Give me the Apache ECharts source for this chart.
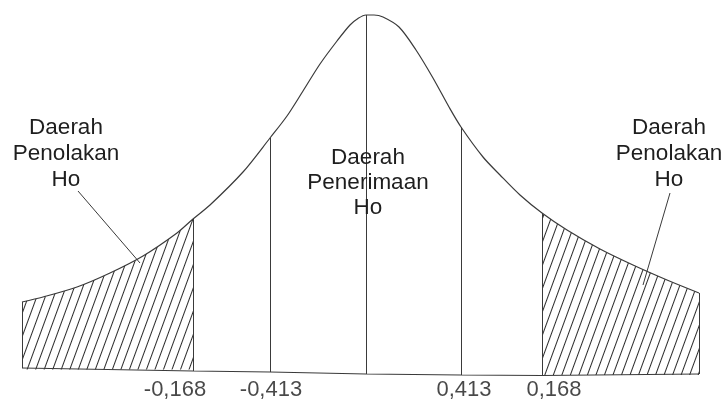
<!DOCTYPE html>
<html>
<head>
<meta charset="utf-8">
<script src="https://cdn.jsdelivr.net/npm/echarts@6/dist/echarts.min.js"></script>
<style>
  html, body { margin: 0; padding: 0; background: #fff; }
  #main { width: 724px; height: 401px; }
</style>
</head>
<body>
<div id="main"></div>
<script>
// bell curve (x in z-like units, y in density-like units)
const curveX = [-3.44, -3.23, -2.89, -2.56, -2.23, -1.89, -1.73, -1.56, -1.23, -0.96, -0.79, -0.63, -0.46, -0.29,
  -0.16, -0.08, 0, 0.08, 0.17, 0.33, 0.50, 0.67, 0.83, 0.95, 1.17, 1.34, 1.54, 1.76, 2.01, 2.34, 2.67, 3.01, 3.33];
const curveY = [0.69, 0.74, 0.84, 0.98, 1.15, 1.38, 1.52, 1.66, 1.99, 2.33, 2.55, 2.80, 3.07, 3.30,
  3.46, 3.525, 3.56, 3.56, 3.54, 3.44, 3.21, 2.93, 2.64, 2.44, 2.14, 1.96, 1.76, 1.58, 1.41, 1.22, 1.06, 0.91, 0.78];

// vertical dividers (index into the curve) and the baseline under each of them
const dividerIdx = [0, 6, 9, 16, 23, 27, 32];
const baseY = [0.03, 0.0, -0.01, -0.03, -0.04, -0.045, -0.03];

// hatched rejection tails (index ranges into the curve) and their floor
const leftTail = [0, 6];
const rightTail = [27, 32];
const leftFloor = 0.015;
const rightFloor = -0.04;

// critical value labels under the axis
const tickLabels = ["-0,168", "-0,413", "0,413", "0,168"];
const tickX = [-1.91, -0.95, 0.98, 1.88];
const tickY = -0.19;

// leader lines from the side labels into the tails
const leaderFrom = [[-2.88, 1.80], [3.04, 1.78]];
const leaderTo = [[-2.26, 1.08], [2.77, 0.86]];

const regionTexts = ["Daerah\nPenolakan\nHo", "Daerah\nPenerimaan\nHo", "Daerah\nPenolakan\nHo"];

const INK = "#3a3a3a";
const FONT = "'Liberation Sans', Arial, sans-serif";
const SMOOTH = 0.3;

const pts = (a, b) => curveX.slice(a, b + 1).map((x, i) => [x, curveY[a + i]]);

const hatch = {
  symbol: "rect",
  symbolSize: 1,
  dashArrayX: [1, 0],
  dashArrayY: [1, 7],
  rotation: -1.22,
  color: "#2a2a2a",
};

function tailSeries(range, floor) {
  return {
    type: "line",
    data: pts(range[0], range[1]),
    smooth: SMOOTH,
    symbol: "none",
    silent: true,
    z: 1,
    lineStyle: { width: 0, decal: hatch },
    itemStyle: { decal: hatch },
    areaStyle: { color: "#fff", opacity: 1, origin: floor },
  };
}

const chart = echarts.init(document.getElementById("main"));

const option = {
  animation: false,
  backgroundColor: "#fff",
  grid: { left: 0, right: 0, top: 0, bottom: 0 },
  xAxis: { type: "value", min: -3.66, max: 3.58, show: false },
  yAxis: { type: "value", min: -0.30, max: 3.71, show: false },
  series: [
    tailSeries(leftTail, leftFloor),
    tailSeries(rightTail, rightFloor),
    {
      // the curve itself, plus dividers and leaders as mark lines
      type: "line",
      data: pts(0, curveX.length - 1),
      smooth: SMOOTH,
      symbol: "none",
      silent: true,
      z: 3,
      lineStyle: { color: INK, width: 1.2 },
      markLine: {
        silent: true,
        symbol: ["none", "none"],
        label: { show: false },
        lineStyle: { color: INK, width: 1, type: "solid" },
        data: dividerIdx
          .map((k, i) => [{ coord: [curveX[k], baseY[i]] }, { coord: [curveX[k], curveY[k]] }])
          .concat(leaderFrom.map((p, i) => [{ coord: p }, { coord: leaderTo[i] }])),
      },
    },
    {
      // baseline
      type: "line",
      data: dividerIdx.map((k, i) => [curveX[k], baseY[i]]),
      symbol: "none",
      silent: true,
      z: 3,
      lineStyle: { color: INK, width: 1.2 },
    },
    {
      type: "scatter",
      data: tickX.map((x) => [x, tickY]),
      symbolSize: 1,
      itemStyle: { color: "rgba(0,0,0,0)" },
      silent: true,
      label: {
        show: true,
        position: "inside",
        formatter: (p) => tickLabels[p.dataIndex],
        color: "#1a1a1a",
        fontSize: 22,
        fontFamily: FONT,
      },
    },
  ],
  graphic: [
    { left: 66, top: 115, text: regionTexts[0] },
    { left: 368, top: 145, text: regionTexts[1], lh: 25 },
    { left: 669, top: 115, text: regionTexts[2] },
  ].map((t) => ({
    type: "text",
    x: t.left,
    y: t.top,
    z: 10,
    style: {
      text: t.text,
      fill: "#1e1e1e",
      font: "22.5px " + FONT,
      align: "center",
      verticalAlign: "top",
      lineHeight: t.lh || 26,
    },
  })),
};

chart.setOption(option);
</script>
</body>
</html>
